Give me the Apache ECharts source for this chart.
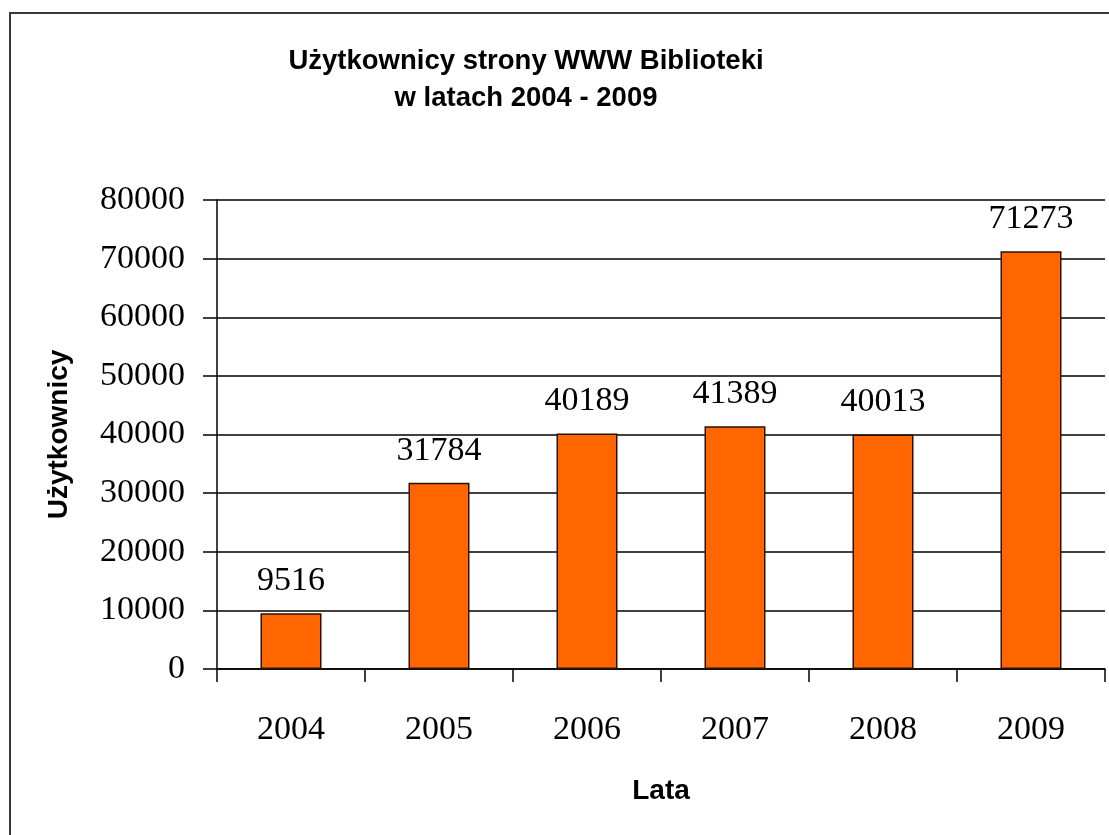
<!DOCTYPE html>
<html>
<head>
<meta charset="utf-8">
<script src="https://cdn.jsdelivr.net/npm/echarts@6/dist/echarts.min.js"></script>
<style>
html,body{margin:0;padding:0;background:#fff;}
#chart{width:1109px;height:835px;}
</style>
</head>
<body>
<div id="chart"></div>
<script>
const categories = ['2004', '2005', '2006', '2007', '2008', '2009'];
const users = [9516, 31784, 40189, 41389, 40013, 71273];
const yTicks = [0, 10000, 20000, 30000, 40000, 50000, 60000, 70000, 80000];

const chart = echarts.init(document.getElementById('chart'), null, {renderer: 'canvas'});
const serif = '"Liberation Serif", "Times New Roman", serif';
const sans = '"Liberation Sans", Arial, sans-serif';

chart.setOption({
  backgroundColor: '#ffffff',
  animation: false,
  title: {
    text: 'Użytkownicy strony WWW Biblioteki\nw latach 2004 - 2009',
    left: 521,
    top: 38,
    textAlign: 'center',
    textStyle: {
      fontFamily: sans,
      fontWeight: 'bold',
      fontSize: 27.5,
      lineHeight: 37,
      color: '#000'
    }
  },
  graphic: [{
    type: 'rect',
    silent: true,
    shape: {x: 10, y: 13, width: 1120, height: 840},
    style: {fill: 'none', stroke: '#3a3a3a', lineWidth: 2}
  }],
  grid: {left: 217, right: 4, top: 200, bottom: 166, containLabel: false},
  xAxis: {
    type: 'category',
    data: categories,
    boundaryGap: true,
    name: 'Lata',
    nameLocation: 'middle',
    nameGap: 108,
    nameTextStyle: {fontFamily: sans, fontWeight: 'bold', fontSize: 28, color: '#000'},
    axisLine: {lineStyle: {color: '#000', width: 1.5}},
    axisTick: {show: true, alignWithLabel: false, length: 13, lineStyle: {color: '#000', width: 1.5}},
    axisLabel: {fontFamily: serif, fontSize: 34, color: '#000', margin: 44},
    splitLine: {show: false}
  },
  yAxis: {
    type: 'value',
    min: yTicks[0],
    max: yTicks[yTicks.length - 1],
    interval: yTicks[1] - yTicks[0],
    name: 'Użytkownicy',
    nameLocation: 'middle',
    nameRotate: 90,
    nameGap: 144,
    nameTextStyle: {fontFamily: sans, fontWeight: 'bold', fontSize: 28, color: '#000'},
    axisLine: {show: true, lineStyle: {color: '#000', width: 1.5}},
    axisTick: {show: true, length: 14, lineStyle: {color: '#000', width: 1.5}},
    axisLabel: {fontFamily: serif, fontSize: 34, color: '#000', margin: 32, formatter: function (v) { return String(v); }},
    splitLine: {show: true, lineStyle: {color: '#000', width: 1.5}}
  },
  series: [{
    type: 'bar',
    data: users,
    barWidth: 61,
    itemStyle: {color: '#FF6600', borderColor: '#2a1200', borderWidth: 1.5},
    label: {
      show: true,
      position: 'top',
      distance: 15,
      fontFamily: serif,
      fontSize: 34,
      color: '#000'
    }
  }]
});
</script>
</body>
</html>
